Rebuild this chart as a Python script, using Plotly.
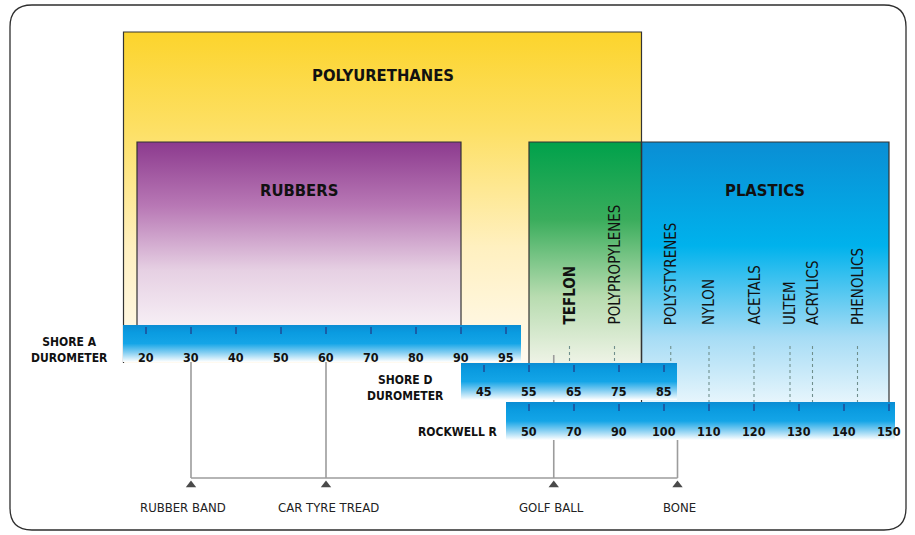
import numpy as np
import plotly.graph_objects as go

# ---------------- data ----------------
shore_a_ticks = [20, 30, 40, 50, 60, 70, 80, 90, 95]
shore_d_ticks = [45, 55, 65, 75, 85]
rockwell_ticks = [50, 70, 90, 100, 110, 120, 130, 140, 150]

family_names = ["POLYURETHANES", "RUBBERS", "", "PLASTICS"]
family_from = [("A", 15), ("A", 18), ("R", 50), ("R", 95)]
family_to = [("R", 95), ("A", 90), ("R", 95), ("R", 150)]

material_names = ["TEFLON", "POLYPROPYLENES", "POLYSTYRENES", "NYLON",
                  "ACETALS", "ULTEM", "ACRYLICS", "PHENOLICS"]
material_rockwell = [68, 88, 101.5, 110, 120, 128, 133, 143]

example_names = ["RUBBER BAND", "CAR TYRE TREAD", "GOLF BALL", "BONE"]
example_scale = ["A", "A", "R", "R"]
example_values = [30, 60, 61, 103]

scale_titles = {"A": "SHORE A<br>DUROMETER", "D": "SHORE D<br>DUROMETER", "R": "ROCKWELL R"}

# ---------------- layout / style ----------------
W, H = 915, 535
SLOT = 45
FONT = "Liberation Sans Narrow, Arial Narrow, DejaVu Sans Condensed, sans-serif"
scale_ticks = {"A": shore_a_ticks, "D": shore_d_ticks, "R": rockwell_ticks}
scale_origin = {"A": 146, "D": 484, "R": 529}
band_top = {"A": 325, "D": 363, "R": 402}
band_bottom = {"A": 362, "D": 400, "R": 440}
band_pad = {"A": (23, 15), "D": (23, 13), "R": (23, 6)}
label_y = {"A": 357, "D": 391, "R": 431}
title_pos = {"A": (69, 349.5), "D": (405, 387.5), "R": (458, 432)}

family_top = [32, 142, 142, 142]
family_bottom = [363, 325, 363, 402]
family_label_y = [75, 190, 190, 190]
family_scales = [
    [[0, "#fcd42c"], [0.3, "#fde066"], [0.65, "#fff0c0"], [1, "#fffaf0"]],
    [[0, "#8c3a8e"], [0.35, "#b878b5"], [0.7, "#e6d0e3"], [1, "#f6eef5"]],
    [[0, "#00a14b"], [0.35, "#3aad5c"], [0.7, "#b8dcb0"], [1, "#eef3e6"]],
    [[0, "#0a8ed4"], [0.4, "#00b2ec"], [0.75, "#a6dcf5"], [1, "#e6f5fc"]],
]
band_scale = [[0, "#0b8cd3"], [0.2, "#0a9be0"], [0.5, "#14a5e7"], [0.75, "#86cff2"], [1, "#ffffff"]]
example_top = [362, 362, 355, 440]
example_label_shift = [-8, 2, -2, 2]
EX_Y = 478


def xpos(scale, v):
    t = scale_ticks[scale]
    idx = np.arange(len(t))
    if v < t[0]:
        i = (v - t[0]) / (t[1] - t[0])
    elif v > t[-1]:
        i = len(t) - 1 + (v - t[-1]) / (t[-1] - t[-2])
    else:
        i = float(np.interp(v, t, idx))
    return scale_origin[scale] + SLOT * i


fig = go.Figure()


def grad_rect(x0, x1, y0, y1, cs):
    fig.add_trace(go.Scatter(
        x=[x0, x1, x1, x0, x0], y=[y0, y0, y1, y1, y0], mode="lines",
        line=dict(width=0), fill="toself",
        fillgradient=dict(type="vertical", colorscale=cs, start=y0, stop=y1),
        hoverinfo="skip", showlegend=False))


def lines(xs, ys, color, width, dash="solid"):
    fig.add_trace(go.Scatter(x=xs, y=ys, mode="lines",
                             line=dict(color=color, width=width, dash=dash),
                             hoverinfo="skip", showlegend=False))


# family boxes
fx = []
for i, name in enumerate(family_names):
    x0 = xpos(*family_from[i])
    x1 = xpos(*family_to[i])
    fx.append((x0, x1))
    grad_rect(x0, x1, family_top[i], family_bottom[i], family_scales[i])

# outlines
ox, oy = [], []
for i in range(len(family_names)):
    x0, x1 = fx[i]
    ox += [x0, x0, x1, x1, None]
    oy += [family_bottom[i], family_top[i], family_top[i], family_bottom[i], None]
lines(ox, oy, "#333333", 1.2)

# example lines (behind scale bands)
exs = [xpos(s, v) for s, v in zip(example_scale, example_values)]
vx, vy = [], []
for x, t in zip(exs, example_top):
    vx += [x, x, None]
    vy += [t, EX_Y, None]
vx += [min(exs), max(exs)]
vy += [EX_Y, EX_Y]
lines(vx, vy, "#9c9c9c", 1.6)

# material dotted lines
mx = [xpos("R", v) for v in material_rockwell]
dx, dy = [], []
d_left = scale_origin["D"] - band_pad["D"][0]
d_right = xpos("D", shore_d_ticks[-1]) + band_pad["D"][1]
for x in mx:
    bottom = band_top["D"] if d_left <= x <= d_right else band_top["R"]
    dx += [x, x, None]
    dy += [346, bottom, None]
lines(dx, dy, "#6f8f8c", 1.1, "dot")

# scale bands with ticks and labels
annotations = []
for s in ["A", "D", "R"]:
    t = scale_ticks[s]
    x0 = xpos(s, t[0]) - band_pad[s][0]
    x1 = xpos(s, t[-1]) + band_pad[s][1]
    grad_rect(x0, x1, band_top[s], band_bottom[s], band_scale)
    tx, ty = [], []
    for v in t:
        x = xpos(s, v)
        tx += [x, x, None]
        ty += [band_top[s] + 2, band_top[s] + 9, None]
        annotations.append(dict(x=x, y=label_y[s], text="<b>%d</b>" % v, showarrow=False,
                                font=dict(family=FONT, size=12.5, color="#111111"),
                                xanchor="center", yanchor="middle"))
    lines(tx, ty, "#1d4f9a", 1.6)
    cx, cy = title_pos[s]
    annotations.append(dict(x=cx, y=cy, text="<b>%s</b>" % scale_titles[s], showarrow=False,
                            font=dict(family=FONT, size=12, color="#111111"),
                            xanchor="center", yanchor="middle", align="center"))

# triangles
fig.add_trace(go.Scatter(x=exs, y=[EX_Y + 7] * len(exs), mode="markers",
                         marker=dict(symbol="triangle-up", size=9, color="#4a4a4a"),
                         hoverinfo="skip", showlegend=False))

# family labels
for i, name in enumerate(family_names):
    if name:
        x0, x1 = fx[i]
        annotations.append(dict(x=(x0 + x1) / 2, y=family_label_y[i], text="<b>%s</b>" % name,
                                showarrow=False, font=dict(family=FONT, size=16.5, color="#111111"),
                                xanchor="center", yanchor="middle"))

# material labels (rotated)
for name, x in zip(material_names, mx):
    txt = "<b>%s</b>" % name if name == "TEFLON" else name
    annotations.append(dict(x=x, y=327, text=txt, textangle=-90, showarrow=False,
                            font=dict(family=FONT, size=15, color="#111111"),
                            xanchor="center", yanchor="bottom"))

# example labels
for name, x, sh in zip(example_names, exs, example_label_shift):
    annotations.append(dict(x=x, y=507, text=name, showarrow=False, xshift=sh,
                            font=dict(family=FONT, size=13, color="#222222"),
                            xanchor="center", yanchor="middle"))

# rounded frame
fx0, fx1, fy0, fy1, r = 10, 906, 5, 530, 22
frame = (f"M {fx0 + r},{fy0} L {fx1 - r},{fy0} Q {fx1},{fy0} {fx1},{fy0 + r} "
         f"L {fx1},{fy1 - r} Q {fx1},{fy1} {fx1 - r},{fy1} L {fx0 + r},{fy1} "
         f"Q {fx0},{fy1} {fx0},{fy1 - r} L {fx0},{fy0 + r} Q {fx0},{fy0} {fx0 + r},{fy0} Z")

fig.update_layout(
    width=W, height=H, margin=dict(l=0, r=0, t=0, b=0),
    paper_bgcolor="white", plot_bgcolor="white",
    xaxis=dict(range=[0, W], visible=False, fixedrange=True),
    yaxis=dict(range=[H, 0], visible=False, fixedrange=True),
    annotations=annotations, hovermode=False,
    shapes=[dict(type="path", path=frame, xref="x", yref="y",
                 line=dict(color="#2e2e2e", width=1.3), layer="above")],
)

fig.write_html("out.html", config={"displayModeBar": False},
               post_script="document.body.style.margin='0';")
